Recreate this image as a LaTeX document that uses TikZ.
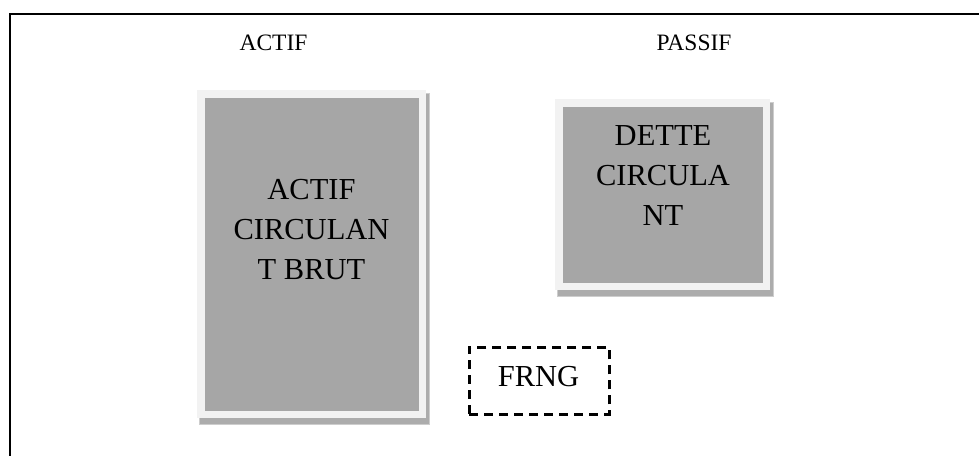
\documentclass[tikz,border=0pt]{standalone}
\usepackage{fontspec}
\setmainfont{Liberation Serif}
\definecolor{boxfill}{RGB}{166,166,166}
\definecolor{boxrim}{RGB}{242,242,242}
\definecolor{boxshade}{RGB}{172,172,172}
\definecolor{boxhalo}{RGB}{205,205,205}
\tikzset{
  heading/.style={font=\fontsize{23.5}{28}\selectfont, anchor=base, inner sep=0pt},
  boxtext/.style={font=\fontsize{30.5}{40}\selectfont, anchor=base, inner sep=0pt},
  frameline/.style={line width=2pt, line cap=rect},
  dashbox/.style={draw, line width=2.6pt, dash pattern=on 9pt off 6pt, inner sep=0pt},
}
% a grey panel with light rim and soft drop shadow:
% #1 name, #2 left, #3 top, #4 right, #5 bottom (outer rim, in px)
\newcommand\shadedpanel[5]{%
  \fill[boxhalo] (#2+2,#3+3) rectangle (#4+4,#5+7);
  \fill[boxshade] (#2+3,#3+4) rectangle (#4+3,#5+6);
  \node[fill=boxrim, inner sep=0pt, minimum width=#4-#2, minimum height=#5-#3,
        anchor=north west] (#1) at (#2,#3) {};
  \node[fill=boxfill, inner sep=0pt, minimum width=#4-#2-15, minimum height=#5-#3-15,
        anchor=center] (#1-in) at (#1.center) {};
}
\begin{document}
\begin{tikzpicture}[x=1pt, y=-1pt]
  \useasboundingbox (0,0) rectangle (979,455);

  % open frame: top and left edges
  \coordinate (frameTL) at (10,14.3);
  \coordinate (frameTR) at (981,14.3);
  \coordinate (frameBL) at (10,457);
  \draw[frameline] (frameTR) -- (frameTL) -- (frameBL);

  % column headings
  \node[heading] (hActif) at (273.5,50) {ACTIF};
  \node[heading] (hPassif) at (694,50) {PASSIF};

  % panels
  \shadedpanel{actif}{197}{90}{426}{418}
  \shadedpanel{dette}{555}{99}{770}{290}

  % panel texts
  \node[boxtext] (ac1) at (311.5,199) {ACTIF};
  \node[boxtext] (ac2) at (311.5,239) {CIRCULAN};
  \node[boxtext] (ac3) at (311.5,279) {T BRUT};

  \node[boxtext] (dc1) at (663,145) {DETTE};
  \node[boxtext] (dc2) at (663,185) {CIRCULA};
  \node[boxtext] (dc3) at (663,225) {NT};

  % dashed FRNG box
  \node[dashbox, minimum width=140, minimum height=67, anchor=north west]
    (frng) at (468,346) {};
  \node[boxtext] (frngtxt) at (538.5,386) {FRNG};
\end{tikzpicture}
\end{document}
